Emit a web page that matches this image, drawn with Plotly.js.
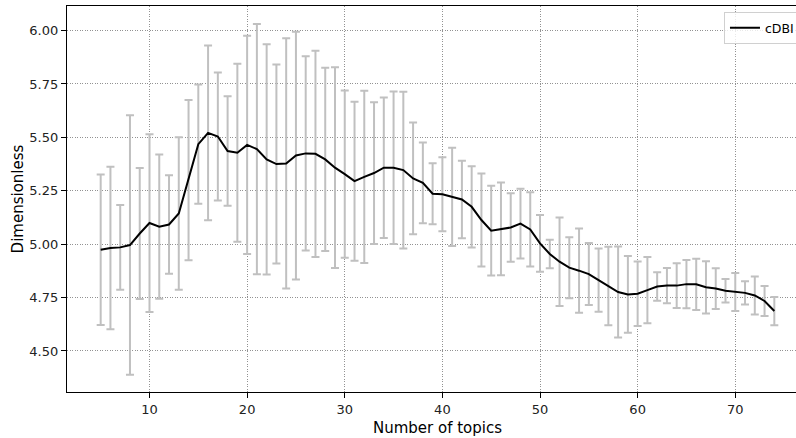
<!DOCTYPE html>
<html>
<head>
<meta charset="utf-8">
<script src="https://cdn.plot.ly/plotly-3.0.1.min.js"></script>
<style>html,body{margin:0;padding:0;background:#fff;overflow:hidden;width:796px;height:438px;}#wrap{width:796px;height:438px;overflow:hidden;position:relative;}#chart{width:812px;height:438px;}</style>
</head>
<body>
<div id="wrap"><div id="chart"></div></div>
<script>
const topics = [5,6,7,8,9,10,11,12,13,14,15,16,17,18,19,20,21,22,23,24,25,26,27,28,29,30,31,32,33,34,35,36,37,38,39,40,41,42,43,44,45,46,47,48,49,50,51,52,53,54,55,56,57,58,59,60,61,62,63,64,65,66,67,68,69,70,71,72,73,74];
const cdbiMean = [4.974,4.982,4.985,4.996,5.050,5.099,5.082,5.092,5.144,5.300,5.468,5.521,5.504,5.436,5.428,5.465,5.445,5.397,5.375,5.378,5.415,5.425,5.423,5.397,5.358,5.328,5.295,5.315,5.333,5.358,5.358,5.347,5.308,5.287,5.236,5.234,5.222,5.209,5.175,5.113,5.063,5.072,5.078,5.096,5.069,5.004,4.954,4.918,4.890,4.876,4.860,4.832,4.804,4.776,4.765,4.768,4.785,4.802,4.806,4.806,4.813,4.812,4.798,4.792,4.782,4.776,4.772,4.760,4.734,4.687];
const cdbiStd = [0.352,0.380,0.198,0.607,0.307,0.416,0.338,0.231,0.357,0.375,0.279,0.409,0.300,0.256,0.417,0.511,0.586,0.539,0.466,0.586,0.580,0.455,0.483,0.429,0.470,0.391,0.372,0.403,0.332,0.329,0.357,0.367,0.262,0.189,0.143,0.173,0.230,0.181,0.190,0.218,0.210,0.217,0.160,0.163,0.174,0.133,0.067,0.207,0.143,0.197,0.145,0.148,0.184,0.213,0.180,0.151,0.155,0.067,0.082,0.105,0.113,0.120,0.122,0.095,0.055,0.089,0.054,0.089,0.070,0.066];
const yTicks = [4.50,4.75,5.00,5.25,5.50,5.75,6.00];
const xTicks = [10,20,30,40,50,60,70];
const seriesName = 'cDBI';

const font = 'DejaVu Sans, sans-serif';
const traces = [
  {
    x: topics, y: cdbiMean, type: 'scatter', mode: 'markers',
    marker: {size: 1, color: 'rgba(0,0,0,0)'},
    error_y: {type: 'data', array: cdbiStd, visible: true, color: '#c0c0c0', thickness: 2, width: 4},
    showlegend: false, hoverinfo: 'skip'
  },
  {
    x: topics, y: cdbiMean, type: 'scatter', mode: 'lines', name: seriesName,
    line: {color: '#000000', width: 2}
  }
];
const layout = {
  width: 812, height: 438,
  margin: {l: 67, r: 4, t: 6, b: 46},
  paper_bgcolor: '#ffffff', plot_bgcolor: '#ffffff',
  font: {family: font, size: 13, color: '#000'},
  xaxis: {
    range: [1.55, 77.45], tickvals: xTicks, ticktext: xTicks.map(String),
    showline: true, mirror: true, linecolor: '#000', linewidth: 1.2,
    ticks: 'outside', ticklen: 5, tickwidth: 1, tickcolor: '#000',
    showgrid: true, gridcolor: '#777', griddash: '1px,1.5px', gridwidth: 0.8,
    zeroline: false, tickfont: {family: font, size: 13, color: '#222'},
    title: {text: 'Number of topics', font: {family: font, size: 15, color: '#000'}, standoff: 6}
  },
  yaxis: {
    range: [4.308, 6.115], tickvals: yTicks, ticktext: yTicks.map(v => v.toFixed(2)),
    showline: true, mirror: true, linecolor: '#000', linewidth: 1.2,
    ticks: 'outside', ticklen: 5, tickwidth: 1, tickcolor: '#000',
    showgrid: true, gridcolor: '#777', griddash: '1px,1.5px', gridwidth: 0.8,
    zeroline: false, tickfont: {family: font, size: 13, color: '#222'},
    title: {text: 'Dimensionless', font: {family: font, size: 15, color: '#000'}, standoff: 2}
  },
  legend: {
    x: 0.8866, y: 0.984, xanchor: 'left', yanchor: 'top',
    bgcolor: 'rgba(255,255,255,0.8)', bordercolor: '#d0d0d0', borderwidth: 1,
    itemwidth: 30,
    font: {family: font, size: 12.5, color: '#000'}
  },
  showlegend: true
};
Plotly.newPlot('chart', traces, layout, {staticPlot: true, displayModeBar: false});
</script>
</body>
</html>
